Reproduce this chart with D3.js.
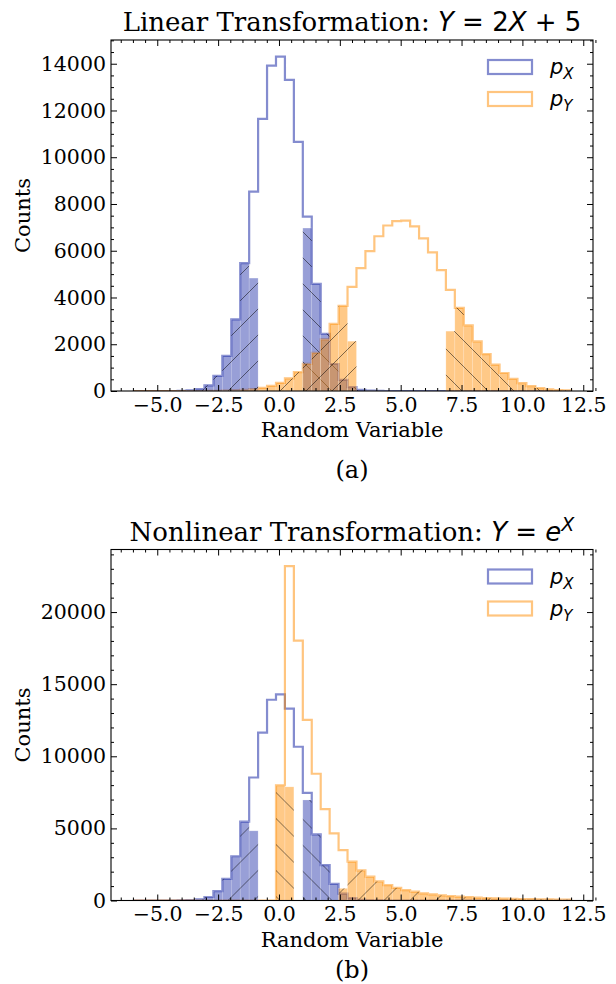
<!DOCTYPE html>
<html>
<head>
<meta charset="utf-8">
<script src="https://cdnjs.cloudflare.com/ajax/libs/d3/7.8.5/d3.min.js"></script>
<style>
  body { margin: 0; background: #fff; }
  svg { display: block; }
</style>
</head>
<body>
<div id="chart"></div>
<script>
// histogram bins: 49 equal bins between -6 and 12
const binLo = -6;
const binHi = 12;
const nBins = 49;

const xTicks = [-5, -2.5, 0, 2.5, 5, 7.5, 10, 12.5];
const yTicksLin = [0, 2000, 4000, 6000, 8000, 10000, 12000, 14000];
const yTicksExp = [0, 5000, 10000, 15000, 20000];

// p_X counts (same sample in both panels)
const countsX = [0,0,0,0,1,6,23,80,243,647,1504,3068,5468,8530,11640,13920,14300,13310,10660,7460,4580,2450,1154,473,170,53,15,4,1,
  0,0,0,0,0,0,0,0,0,0,0,0,0,0,0,0,0,0,0,0];
// X < -1 and X > 1
const fillXLeft = [0,0,0,0,1,6,23,80,243,647,1504,3068,5468,4830,0,0,0,0,0,0,0,0,0,0,0,0,0,0,0,
  0,0,0,0,0,0,0,0,0,0,0,0,0,0,0,0,0,0,0,0];
const fillXRight = [0,0,0,0,0,0,0,0,0,0,0,0,0,0,0,0,0,0,0,6970,4580,2450,1154,473,170,53,15,4,1,
  0,0,0,0,0,0,0,0,0,0,0,0,0,0,0,0,0,0,0,0];

// p_Y for Y = 2X + 5
const countsLinY = [0,0,0,0,0,0,0,1,3,6,13,24,44,77,133,219,349,541,810,1163,1634,2209,2872,3640,4450,
  5260,5980,6620,7080,7270,7290,7040,6530,5930,5170,4330,3560,2810,2120,1580,1130,770,516,333,206,126,72,41,23];
const fillLinYLeft = [0,0,0,0,0,0,0,1,3,6,13,24,44,77,133,219,349,541,810,1163,1634,2209,2872,3640,2130,
  0,0,0,0,0,0,0,0,0,0,0,0,0,0,0,0,0,0,0,0,0,0,0,0];
const fillLinYRight = [0,0,0,0,0,0,0,0,0,0,0,0,0,0,0,0,0,0,0,0,0,0,0,0,0,
  0,0,0,0,0,0,0,0,0,0,2560,3560,2810,2120,1580,1130,770,516,333,206,126,72,41,23];

// p_Y for Y = e^X
const countsExpY = [0,0,0,0,0,0,0,0,0,0,0,0,0,0,0,0,7990,23180,18020,12520,8790,6330,4650,3490,2690,
  2090,1650,1320,1070,880,720,610,500,430,360,310,270,230,200,170,150,140,120,100,90,80,80,60,60];
const fillExpYLeft = [0,0,0,0,0,0,0,0,0,0,0,0,0,0,0,0,7990,7880,0,0,0,0,0,0,0,
  0,0,0,0,0,0,0,0,0,0,0,0,0,0,0,0,0,0,0,0,0,0,0,0];
const fillExpYRight = [0,0,0,0,0,0,0,0,0,0,0,0,0,0,0,0,0,0,0,0,0,0,0,840,2690,
  2090,1650,1320,1070,880,720,610,500,430,360,310,270,230,200,170,150,140,120,100,90,80,80,60,60];

const colX = '#0a1aa0';
const colY = '#ff8c00';

const width = 616;
const height = 984;
const margin = {l: 111, r: 23};
const plotW = width - margin.l - margin.r;
const plotH = 351;

const serif = "'DejaVu Serif', serif";
const sans = "'DejaVu Sans', sans-serif";

const edges = d3.range(nBins + 1).map(i => binLo + i * (binHi - binLo) / nBins);
const pad = 0.05 * (binHi - binLo);

const svg = d3.select('#chart')
    .append('svg')
    .attr('width', width)
    .attr('height', height);

const defs = svg.append('defs');

// hatch patterns, '/' and '\'
function makeHatch(id, dir) {
    const s = 26;
    const p = defs.append('pattern')
        .attr('id', id)
        .attr('patternUnits', 'userSpaceOnUse')
        .attr('width', s)
        .attr('height', s);
    const d = dir === '/'
        ? `M-2,2 L2,-2 M0,${s} L${s},0 M${s-2},${s+2} L${s+2},${s-2}`
        : `M-2,${s-2} L2,${s+2} M0,0 L${s},${s} M${s-2},-2 L${s+2},2`;
    p.append('path')
        .attr('d', d)
        .attr('stroke', '#000')
        .attr('stroke-opacity', 0.5)
        .attr('stroke-width', 1);
}
makeHatch('hatchF', '/');
makeHatch('hatchB', '\\');

function drawPanel(top, cfg) {

    const g = svg.append('g')
        .attr('transform', `translate(${margin.l},${top})`);

    const x = d3.scaleLinear()
        .domain([binLo - pad, binHi + pad])
        .range([0, plotW]);

    const yMax = 1.05 * d3.max([d3.max(countsX), d3.max(cfg.countsY)]);
    const y = d3.scaleLinear()
        .domain([0, yMax])
        .range([plotH, 0]);

    const clip = 'clip' + cfg.id;
    defs.append('clipPath').attr('id', clip)
        .append('rect').attr('width', plotW).attr('height', plotH);

    const plot = g.append('g').attr('clip-path', `url(#${clip})`);

    // outlines (step histograms)
    const step = d3.line()
        .x(d => x(d[0]))
        .y(d => y(d[1]))
        .curve(d3.curveStepAfter);

    function stepData(counts) {
        const pts = [[edges[0], 0]];
        counts.forEach((c, i) => pts.push([edges[i], c]));
        pts.push([edges[nBins], counts[nBins - 1]]);
        pts.push([edges[nBins], 0]);
        return pts;
    }

    [[countsX, colX], [cfg.countsY, colY]].forEach(([counts, col]) => {
        plot.append('path')
            .datum(stepData(counts))
            .attr('d', step)
            .attr('fill', 'none')
            .attr('stroke', col)
            .attr('stroke-opacity', 0.5)
            .attr('stroke-width', 2.2)
            .attr('stroke-linejoin', 'miter');
    });

    // filled, hatched bars
    cfg.fills.forEach(f => {
        const bins = f.counts.map((c, i) => ({x0: edges[i], x1: edges[i + 1], c}))
            .filter(d => d.c > 0);
        const fg = plot.append('g');
        fg.selectAll('.bar')
            .data(bins)
            .join('rect')
            .attr('class', 'bar')
            .attr('x', d => x(d.x0))
            .attr('width', d => x(d.x1) - x(d.x0))
            .attr('y', d => y(d.c))
            .attr('height', d => y(0) - y(d.c))
            .attr('fill', f.color)
            .attr('fill-opacity', f.color === colX ? 0.42 : 0.47)
            .attr('stroke', '#fff')
            .attr('stroke-opacity', 0.3)
            .attr('stroke-width', 0.6);
        fg.selectAll('.hatch')
            .data(bins)
            .join('rect')
            .attr('class', 'hatch')
            .attr('x', d => x(d.x0))
            .attr('width', d => x(d.x1) - x(d.x0))
            .attr('y', d => y(d.c))
            .attr('height', d => y(0) - y(d.c))
            .attr('fill', `url(#${f.hatch})`);
    });

    // axes, ticks pointing in on all four sides
    const minorX = d3.range(-6.5, 13.01, 0.5).filter(v => !xTicks.includes(v));
    const minorY = d3.range(0, yMax, cfg.minorStep).filter(v => !cfg.yTicks.includes(v));

    function styleAxis(sel) {
        sel.select('.domain').remove();
        sel.selectAll('line').attr('stroke', '#000').attr('stroke-width', 1);
        sel.selectAll('text')
            .attr('fill', '#000')
            .style('font-family', serif)
            .style('font-size', '20.5px');
    }

    g.append('g')
        .attr('transform', `translate(0,${plotH})`)
        .call(d3.axisBottom(x).tickValues(xTicks).tickFormat(d3.format('.1f'))
            .tickSize(-6).tickSizeOuter(0).tickPadding(6))
        .call(styleAxis);
    g.append('g')
        .attr('transform', `translate(0,${plotH})`)
        .call(d3.axisBottom(x).tickValues(minorX).tickFormat('').tickSize(-3).tickSizeOuter(0))
        .call(styleAxis);
    g.append('g')
        .call(d3.axisTop(x).tickValues(xTicks).tickFormat('').tickSize(-6).tickSizeOuter(0))
        .call(styleAxis);
    g.append('g')
        .call(d3.axisTop(x).tickValues(minorX).tickFormat('').tickSize(-3).tickSizeOuter(0))
        .call(styleAxis);

    g.append('g')
        .call(d3.axisLeft(y).tickValues(cfg.yTicks).tickFormat(d3.format('d'))
            .tickSize(-6).tickSizeOuter(0).tickPadding(5))
        .call(styleAxis);
    g.append('g')
        .call(d3.axisLeft(y).tickValues(minorY).tickFormat('').tickSize(-3).tickSizeOuter(0))
        .call(styleAxis);
    g.append('g')
        .attr('transform', `translate(${plotW},0)`)
        .call(d3.axisRight(y).tickValues(cfg.yTicks).tickFormat('').tickSize(-6).tickSizeOuter(0))
        .call(styleAxis);
    g.append('g')
        .attr('transform', `translate(${plotW},0)`)
        .call(d3.axisRight(y).tickValues(minorY).tickFormat('').tickSize(-3).tickSizeOuter(0))
        .call(styleAxis);

    // frame
    g.append('rect')
        .attr('width', plotW)
        .attr('height', plotH)
        .attr('fill', 'none')
        .attr('stroke', '#000')
        .attr('stroke-width', 1.1);

    // title
    const title = g.append('text')
        .attr('x', plotW / 2)
        .attr('y', -9)
        .attr('text-anchor', 'middle')
        .style('font-size', '26px')
        .style('font-family', serif);
    cfg.title(title);

    // axis labels
    g.append('text')
        .attr('x', plotW / 2)
        .attr('y', plotH + 46)
        .attr('text-anchor', 'middle')
        .style('font-family', serif)
        .style('font-size', '21px')
        .text('Random Variable');

    g.append('text')
        .attr('transform', `translate(${-111 + 30},${plotH / 2}) rotate(-90)`)
        .attr('text-anchor', 'middle')
        .style('font-family', serif)
        .style('font-size', '21px')
        .text('Counts');

    // caption
    svg.append('text')
        .attr('x', margin.l + plotW / 2)
        .attr('y', top + plotH + cfg.captionDy)
        .attr('text-anchor', 'middle')
        .style('font-family', serif)
        .style('font-size', '24px')
        .text(cfg.caption);

    // legend
    const leg = g.append('g').attr('transform', `translate(${plotW - 105},20)`);
    [['X', colX], ['Y', colY]].forEach(([sub, col], i) => {
        const row = leg.append('g').attr('transform', `translate(0,${i * 32})`);
        row.append('rect')
            .attr('width', 44)
            .attr('height', 14)
            .attr('fill', 'none')
            .attr('stroke', col)
            .attr('stroke-opacity', 0.5)
            .attr('stroke-width', 2.2);
        const t = row.append('text')
            .attr('x', 62)
            .attr('y', 14)
            .style('font-family', sans)
            .style('font-size', '21px')
            .style('font-style', 'italic');
        t.append('tspan').text('p');
        t.append('tspan').attr('dy', 5).style('font-size', '15px').text(sub);
    });
}

drawPanel(40, {
    id: 'a',
    countsY: countsLinY,
    yTicks: yTicksLin,
    minorStep: 500,
    caption: '(a)',
    captionDy: 87,
    fills: [
        {counts: fillXLeft, color: colX, hatch: 'hatchF'},
        {counts: fillXRight, color: colX, hatch: 'hatchB'},
        {counts: fillLinYLeft, color: colY, hatch: 'hatchF'},
        {counts: fillLinYRight, color: colY, hatch: 'hatchB'}
    ],
    title: t => {
        t.append('tspan').text('Linear Transformation: ');
        const m = t.append('tspan').style('font-family', sans);
        m.append('tspan').style('font-style', 'italic').text('Y');
        m.append('tspan').text(' = 2');
        m.append('tspan').style('font-style', 'italic').text('X');
        m.append('tspan').text(' + 5');
    }
});

drawPanel(549.5, {
    id: 'b',
    countsY: countsExpY,
    yTicks: yTicksExp,
    minorStep: 1000,
    caption: '(b)',
    captionDy: 77,
    fills: [
        {counts: fillXLeft, color: colX, hatch: 'hatchF'},
        {counts: fillXRight, color: colX, hatch: 'hatchB'},
        {counts: fillExpYLeft, color: colY, hatch: 'hatchB'},
        {counts: fillExpYRight, color: colY, hatch: 'hatchF'}
    ],
    title: t => {
        t.append('tspan').text('Nonlinear Transformation: ');
        const m = t.append('tspan').style('font-family', sans);
        m.append('tspan').style('font-style', 'italic').text('Y');
        m.append('tspan').text(' = ');
        m.append('tspan').style('font-style', 'italic').text('e');
        m.append('tspan').attr('dy', -10).style('font-size', '19px').style('font-style', 'italic').text('X');
    }
});
</script>
</body>
</html>
